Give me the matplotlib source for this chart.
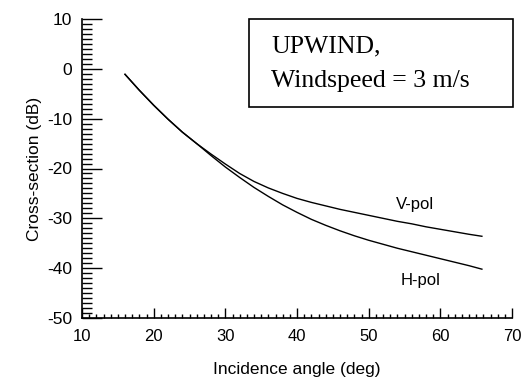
import matplotlib
matplotlib.use("Agg")
import matplotlib.pyplot as plt
from matplotlib.patches import Rectangle
from matplotlib.ticker import MultipleLocator

plt.rcParams['font.family'] = ['Liberation Sans', 'DejaVu Sans']
plt.rcParams['axes.unicode_minus'] = False

# Data
angle = [16, 18, 20, 22, 24, 26, 28, 30, 32, 34, 36, 38, 40, 42, 44, 46, 48,
         50, 52, 54, 56, 58, 60, 62, 64, 65.8]
vpol = [-1.1, -4.3, -7.3, -10.1, -12.7, -15.0, -17.1, -19.1, -21.0, -22.6, -23.9,
        -25.0, -26.0, -26.8, -27.5, -28.2, -28.8, -29.4, -30.0, -30.6, -31.1,
        -31.7, -32.2, -32.7, -33.2, -33.6]
hpol = [-1.1, -4.3, -7.3, -10.1, -12.7, -15.0, -17.4, -19.7, -21.8, -23.8, -25.6,
        -27.3, -28.8, -30.2, -31.4, -32.5, -33.5, -34.4, -35.2, -36.0, -36.7,
        -37.4, -38.1, -38.8, -39.5, -40.2]

x_ticks = [10, 20, 30, 40, 50, 60, 70]
y_ticks = [-50, -40, -30, -20, -10, 0, 10]

fig = plt.figure(figsize=(5.23, 3.78), dpi=100)
ax = fig.add_axes([82/523, 1-318/378, (512-82)/523, (318-19)/378])

ax.plot(angle, vpol, color='black', lw=1.0)
ax.plot(angle, hpol, color='black', lw=1.0)

ax.set_xlim(10, 70)
ax.set_ylim(-50, 10)
ax.set_xticks(x_ticks)
ax.set_yticks(y_ticks)
ax.xaxis.set_minor_locator(MultipleLocator(1))
ax.yaxis.set_minor_locator(MultipleLocator(1))

for s in ['top', 'right']:
    ax.spines[s].set_visible(False)
for s in ['left', 'bottom']:
    ax.spines[s].set_linewidth(1.2)

ax.tick_params(axis='x', which='major', direction='in', length=7.5, width=1.0, labelsize=12, pad=8)
ax.tick_params(axis='x', which='minor', direction='in', length=3.2, width=1.0)
ax.tick_params(axis='y', which='major', direction='in', length=14.4, width=1.0, labelsize=12.5, pad=7)
ax.tick_params(axis='y', which='minor', direction='in', length=7.2, width=1.0)

ax.set_xlabel('Incidence angle (deg)', fontsize=12.5, labelpad=13)
ax.set_ylabel('Cross-section (dB)', fontsize=12.5, labelpad=4)

ax.text(56.5, -27.3, 'V-pol', fontsize=12, ha='center', va='center')
ax.text(57.2, -42.4, 'H-pol', fontsize=12, ha='center', va='center')

rect = Rectangle((249/523, 1-107/378), (513-249)/523, (107-19)/378,
                 transform=fig.transFigure, fill=False, edgecolor='black', lw=1.2)
fig.add_artist(rect)
fig.text(271/523, 1-52/378, 'UPWIND,', fontsize=18.5, family='Liberation Serif',
         ha='left', va='baseline')
fig.text(271/523, 1-86.5/378, 'Windspeed = 3 m/s', fontsize=18.5, family='Liberation Serif',
         ha='left', va='baseline')

fig.savefig('out.png', dpi=100)
